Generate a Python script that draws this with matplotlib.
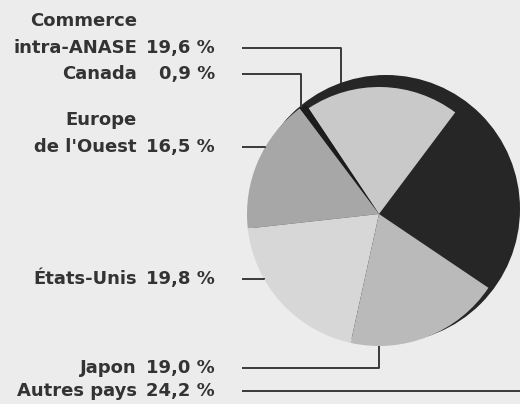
import numpy as np
import matplotlib.pyplot as plt
from matplotlib.patches import Circle

# parts du commerce (%), dans l'ordre du camembert (sens anti-horaire)
pays = ["Autres pays", "Commerce\nintra-ANASE", "Canada", "Europe\nde l'Ouest", "États-Unis", "Japon"]
parts = [24.2, 19.6, 0.9, 16.5, 19.8, 19.0]
pct = ["24,2 %", "19,6 %", "0,9 %", "16,5 %", "19,8 %", "19,0 %"]
couleurs = ["#262626", "#c9c9c9", "#1c1c1c", "#a7a7a7", "#d7d7d7", "#bababa"]

W, H = 520, 404
fond = "#ececec"
encre = "#333333"

fig = plt.figure(figsize=(5.2, 4.04), dpi=100)
fig.patch.set_facecolor(fond)
ax = fig.add_axes([0, 0, 1, 1])
ax.set_facecolor(fond)

# camembert + "ombre" sombre decalee en haut a droite
cx, cy, r = 379, H - 214, 132
ombre = (cx + 7, cy + 5, 134)
ax.add_patch(Circle(ombre[:2], ombre[2], color="#262626", lw=0, zorder=1))
wedges, _ = ax.pie(parts, colors=couleurs, startangle=-34, center=(cx, cy), radius=r,
                   wedgeprops=dict(linewidth=0, zorder=2))
wedges[1].set_radius(127)  # le commerce intra-ANASE est un peu en retrait

ax.set_xlim(0, W)
ax.set_ylim(0, H)
ax.set_aspect("auto")
ax.axis("off")

# mise en page des etiquettes (y en pixels depuis le haut)
lab_y = [391, 48, 74, 147, 279, 368]
ancre = [None, ("ombre", 109.5), ("pie", 126), ("pie", 150), ("pie", 209), ("pie", 270)]
x_nom, x_pct, x_trait = 137, 215, 242
interligne = 27

police = dict(family="DejaVu Sans", fontweight="bold", fontsize=13, color=encre)

for nom, p, y, a in zip(pays, pct, lab_y, ancre):
    lignes = nom.split("\n")
    for k, ligne in enumerate(reversed(lignes)):
        ax.text(x_nom, H - y + k * interligne, ligne, ha="right", va="center", **police)
    ax.text(x_pct, H - y, p, ha="right", va="center", **police)

    if a is None:
        xs, ys = [x_trait, W + 10], [H - y, H - y]
    else:
        if a[0] == "ombre":
            ox, oy, rr = ombre
        else:
            ox, oy, rr = cx, cy, r
        t = np.radians(a[1])
        px, py = ox + rr * np.cos(t), oy + rr * np.sin(t)
        xs, ys = [x_trait, px, px], [H - y, H - y, py]
    ax.plot(xs, ys, color="#3a3a3a", lw=1.4, solid_capstyle="butt", zorder=3, clip_on=False)

fig.savefig("out.png", dpi=100, facecolor=fond)
